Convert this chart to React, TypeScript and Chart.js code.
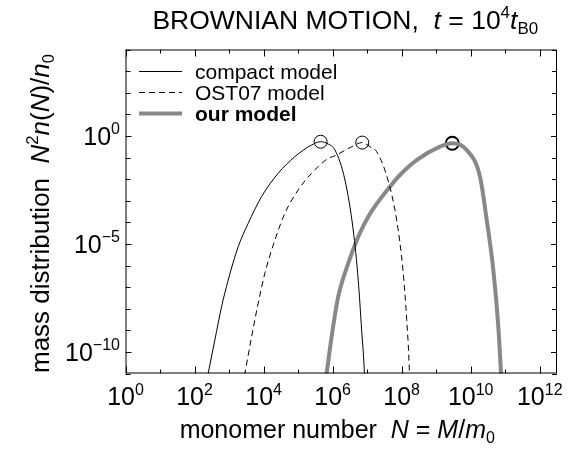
import React, { useEffect, useRef } from "react";
import { Chart, registerables } from "chart.js";

Chart.register(...registerables);

// ---------- data ----------
const compactN = [1.86e2, 2.48e2, 3.87e2, 6.07e2, 9.42e2, 1.84e3, 3.58e3, 8.75e3, 2.65e4, 8.07e4, 2.46e5, 4.49e5, 7.46e5, 1.167e6, 2.275e6, 3.95e6, 5.52e6, 6.93e6, 8.24e6, 8.7e6];
const compactY = [1e-12, 1.0e-11, 3.5e-10, 1.23e-8, 2.1e-7, 7.4e-6, 8.9e-5, 1.55e-3, 1.86e-2, 0.11, 0.38, 0.537, 0.42, 0.224, 9.1e-3, 4.4e-5, 2.1e-7, 1.02e-9, 1.45e-11, 1e-12];

const ostN = [2.2e3, 2.87e3, 4.49e3, 6.97e3, 1.09e4, 2.13e4, 4.14e4, 1.007e5, 2.46e5, 7.45e5, 1.167e6, 3.56e6, 7.21e6, 1.205e7, 1.884e7, 4.01e7, 7.16e7, 1.09e8, 1.4e8, 1.66e8, 1.74e8];
const ostY = [1e-12, 1.0e-11, 5.0e-10, 1.78e-8, 4.4e-7, 1.51e-5, 2.63e-4, 3.16e-3, 1.86e-2, 0.091, 0.12, 0.316, 0.49, 0.316, 0.186, 9.1e-3, 1.29e-4, 6.2e-7, 3.1e-9, 1.82e-11, 1e-12];

const ourN = [5.5e5, 6.7e5, 9.35e5, 1.452e6, 2.83e6, 5.52e6, 1.076e7, 4.58e7, 8.9e7, 2.72e8, 1.29e9, 2.93e9, 7.66e9, 1.86e10, 2.91e10, 4.52e10, 6.31e10, 7.55e10, 8.1e10];
const ourY = [1e-12, 1.0e-11, 5.0e-10, 3.6e-8, 1.26e-6, 2.14e-5, 1.82e-4, 4.47e-3, 1.55e-2, 7.6e-2, 0.316, 0.457, 0.224, 1.29e-2, 1.29e-4, 6.2e-7, 1.48e-9, 1.0e-11, 1e-12];

const peakN = [4.49e5, 7.21e6, 2.93e9];
const peakY = [0.537, 0.49, 0.457];

const seriesNames = ["compact model", "OST07 model", "our model"];

const xTickExps = [0, 1, 2, 3, 4, 5, 6, 7, 8, 9, 10, 11, 12];
const xLabelExps = ["0", "2", "4", "6", "8", "10", "12"];
const yTickExps = [-11, -10, -9, -8, -7, -6, -5, -4, -3, -2, -1, 0, 1, 2, 3, 4];
const yLabelExps = ["0", "\u22125", "\u221210"];

const X_MIN = 1;
const X_MAX = 3.162e12;
const Y_MIN = 1e-11;
const Y_MAX = 1e4;

const FAMILY = '"Liberation Sans", Arial, Helvetica, sans-serif';

type Seg = { t: string; i?: boolean; b?: boolean; s?: "sup" | "sub" };

function segFont(seg: Seg, size: number) {
  const sz = seg.s ? size * 0.64 : size;
  return `${seg.i ? "italic " : ""}${seg.b ? "bold " : ""}${sz}px ${FAMILY}`;
}

function measureRich(ctx: CanvasRenderingContext2D, segs: Seg[], size: number) {
  let w = 0;
  for (const s of segs) {
    ctx.font = segFont(s, size);
    w += ctx.measureText(s.t).width;
  }
  return w;
}

function drawRich(
  ctx: CanvasRenderingContext2D,
  segs: Seg[],
  x: number,
  y: number,
  size: number,
  align: "left" | "center" | "right"
) {
  const total = measureRich(ctx, segs, size);
  let cx = align === "left" ? x : align === "center" ? x - total / 2 : x - total;
  ctx.textBaseline = "alphabetic";
  ctx.textAlign = "left";
  for (const s of segs) {
    ctx.font = segFont(s, size);
    const dy = s.s === "sup" ? -size * 0.42 : s.s === "sub" ? size * 0.2 : 0;
    ctx.fillText(s.t, cx, y + dy);
    cx += ctx.measureText(s.t).width;
  }
}

const framePlugin = {
  id: "frame",
  afterDraw(chart: any) {
    const ctx: CanvasRenderingContext2D = chart.ctx;
    const { left, right, top, bottom } = chart.chartArea;
    const xs = chart.scales.x;
    const ys = chart.scales.y;
    ctx.save();
    ctx.fillStyle = "#000";
    ctx.strokeStyle = "#000";
    ctx.lineWidth = 1;
    ctx.setLineDash([]);
    // box
    ctx.strokeRect(left + 0.5, top + 0.5, right - left - 1, bottom - top - 1);
    // ticks (inward, all four sides)
    ctx.beginPath();
    for (const e of xTickExps) {
      const px = Math.round(xs.getPixelForValue(Math.pow(10, e))) + 0.5;
      const len = e % 2 === 0 ? 7 : 4;
      ctx.moveTo(px, bottom);
      ctx.lineTo(px, bottom - len);
      ctx.moveTo(px, top);
      ctx.lineTo(px, top + len);
    }
    for (const e of yTickExps) {
      const py = Math.round(ys.getPixelForValue(Math.pow(10, e))) + 0.5;
      const len = e % 5 === 0 ? 6 : 5;
      ctx.moveTo(left, py);
      ctx.lineTo(left + len, py);
      ctx.moveTo(right, py);
      ctx.lineTo(right - len, py);
    }
    ctx.stroke();

    // tick labels
    const tsz = 25;
    for (const l of xLabelExps) {
      const px = xs.getPixelForValue(Math.pow(10, Number(l)));
      drawRich(ctx, [{ t: "10" }, { t: l, s: "sup" }], px, 405, tsz, "center");
    }
    for (const l of yLabelExps) {
      const v = Math.pow(10, Number(l.replace("\u2212", "-")));
      const py = ys.getPixelForValue(v);
      drawRich(ctx, [{ t: "10" }, { t: l, s: "sup" }], 120, py + tsz * 0.36, tsz, "right");
    }

    // axis titles
    const cxPlot = (left + right) / 2;
    drawRich(
      ctx,
      [
        { t: "monomer number  " },
        { t: "N", i: true },
        { t: " = " },
        { t: "M", i: true },
        { t: "/" },
        { t: "m", i: true },
        { t: "0", s: "sub" },
      ],
      cxPlot - 4,
      438,
      25,
      "center"
    );
    ctx.save();
    ctx.translate(49, (top + bottom) / 2 + 2);
    ctx.rotate(-Math.PI / 2);
    drawRich(
      ctx,
      [
        { t: "mass distribution  " },
        { t: "N", i: true },
        { t: "2", s: "sup" },
        { t: "n", i: true },
        { t: "(" },
        { t: "N", i: true },
        { t: ")/" },
        { t: "n", i: true },
        { t: "0", s: "sub" },
      ],
      0,
      0,
      26,
      "center"
    );
    ctx.restore();

    // title
    drawRich(
      ctx,
      [
        { t: "BROWNIAN MOTION,  " },
        { t: "t", i: true },
        { t: " = 10" },
        { t: "4", s: "sup" },
        { t: "t", i: true },
        { t: "B0", s: "sub" },
      ],
      cxPlot + 4,
      29,
      26.5,
      "center"
    );

    // legend
    const rows = [71.5, 92.5, 113.5];
    const styles = [
      { color: "#000", width: 1, dash: [] as number[] },
      { color: "#000", width: 1, dash: [6, 4] },
      { color: "#888", width: 4, dash: [] as number[] },
    ];
    rows.forEach((ry, i) => {
      ctx.beginPath();
      ctx.strokeStyle = styles[i].color;
      ctx.lineWidth = styles[i].width;
      ctx.setLineDash(styles[i].dash);
      ctx.moveTo(139, ry);
      ctx.lineTo(182, ry);
      ctx.stroke();
      ctx.setLineDash([]);
      ctx.fillStyle = "#000";
      drawRich(ctx, [{ t: seriesNames[i], b: i === 2 }], 195, ry + 7.5, 21, "left");
    });
    ctx.restore();
  },
};

function pts(xs: number[], ys: number[]) {
  return xs.map((x, i) => ({ x, y: ys[i] }));
}

export default function App() {
  const ref = useRef<HTMLCanvasElement | null>(null);
  useEffect(() => {
    if (!ref.current) return;
    const chart = new Chart(ref.current, {
      type: "line",
      data: {
        datasets: [
          {
            label: seriesNames[0],
            data: pts(compactN, compactY),
            borderColor: "#000",
            borderWidth: 1,
            pointRadius: 0,
            cubicInterpolationMode: "monotone",
            fill: false,
          },
          {
            label: seriesNames[1],
            data: pts(ostN, ostY),
            borderColor: "#000",
            borderWidth: 1,
            borderDash: [6, 4],
            pointRadius: 0,
            cubicInterpolationMode: "monotone",
            fill: false,
          },
          {
            label: seriesNames[2],
            data: pts(ourN, ourY),
            borderColor: "#888",
            borderWidth: 4,
            pointRadius: 0,
            cubicInterpolationMode: "monotone",
            fill: false,
          },
          {
            label: "peaks",
            data: pts(peakN.slice(0, 2), peakY.slice(0, 2)),
            showLine: false,
            pointRadius: 6.5,
            pointBorderWidth: 1,
            pointBorderColor: "#000",
            pointBackgroundColor: "rgba(0,0,0,0)",
          },
          {
            label: "our peak",
            data: pts(peakN.slice(2), peakY.slice(2)),
            showLine: false,
            pointRadius: 6.5,
            pointBorderWidth: 2,
            pointBorderColor: "#000",
            pointBackgroundColor: "rgba(0,0,0,0)",
          },
        ],
      } as any,
      options: {
        responsive: false,
        animation: false,
        devicePixelRatio: 1,
        layout: { padding: { left: 125.5, right: 28, top: 49.5, bottom: 79.5 } },
        plugins: {
          legend: { display: false },
          tooltip: { enabled: false },
          title: { display: false },
        },
        events: [],
        scales: {
          x: { type: "logarithmic", min: X_MIN, max: X_MAX, display: false },
          y: { type: "logarithmic", min: Y_MIN, max: Y_MAX, display: false },
        },
      } as any,
      plugins: [framePlugin],
    });
    return () => chart.destroy();
  }, []);
  return (
    <div style={{ position: "absolute", left: 0, top: 0, width: 585, height: 453, background: "#fff" }}>
      <canvas ref={ref} width={585} height={453} style={{ display: "block" }} />
    </div>
  );
}
